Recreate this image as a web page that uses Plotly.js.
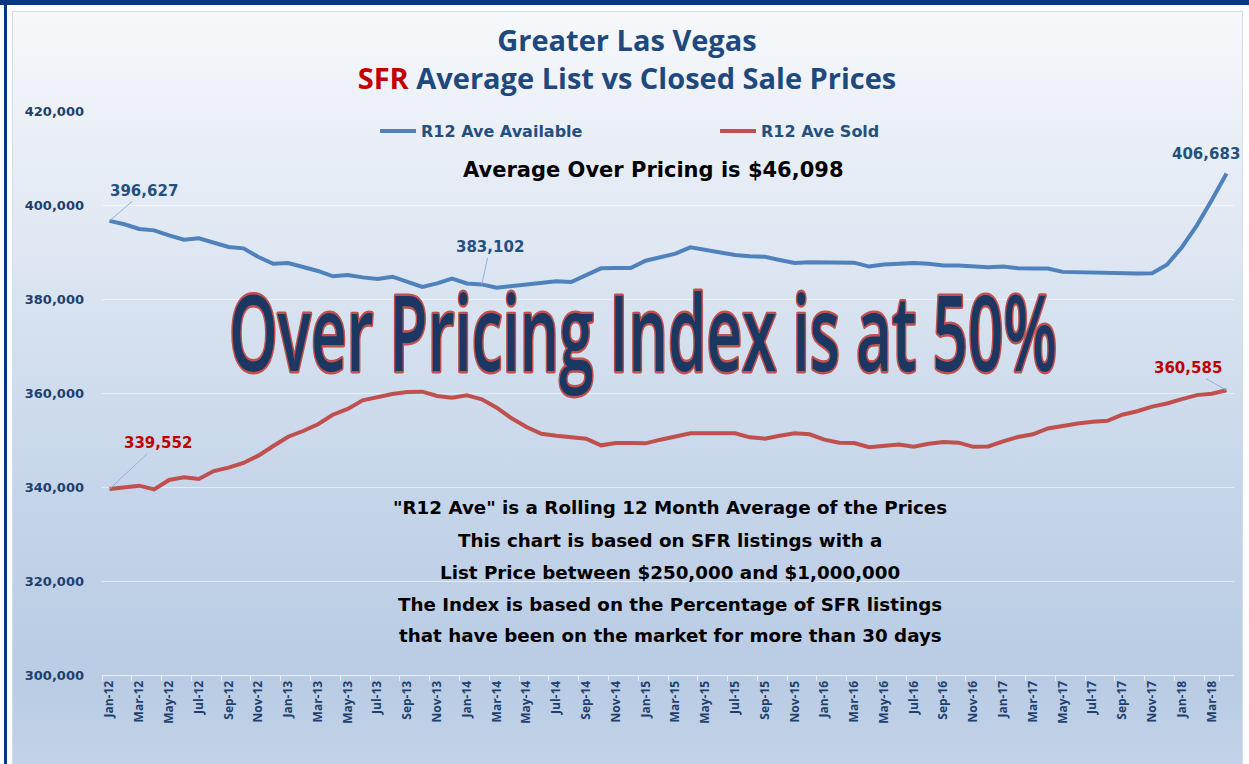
<!DOCTYPE html>
<html>
<head>
<meta charset="utf-8">
<script src="https://cdn.plot.ly/plotly-3.0.1.min.js"></script>
<style>
  html, body { margin: 0; padding: 0; background: #ffffff; }
  #frame { position: relative; width: 1249px; height: 764px; overflow: hidden; background: #ffffff; }
  #topbar { position: absolute; left: 0; top: 0; width: 1249px; height: 5px; background: #0b3680; }
  #leftbar { position: absolute; left: 4px; top: 0; width: 3px; height: 764px; background: #0b3680; }
  #panel { position: absolute; left: 12px; top: 11px; width: 1229px; height: 760px; border: 1px solid #d3dceb;
    background: linear-gradient(to bottom, #f6f8fb 0%, #e6ecf5 22%, #d3dfee 45%, #c4d4e9 65%, #b9cce4 88%, #c3d3e8 100%); }
  #chart { position: absolute; left: 0; top: 0; width: 1249px; height: 764px; }
</style>
</head>
<body>
<div id="frame">
  <div id="topbar"></div>
  <div id="leftbar"></div>
  <div id="panel"></div>
  <div id="chart"></div>
</div>
<script>
// ---- Data ----
var months = [
  "Jan-12","Feb-12","Mar-12","Apr-12","May-12","Jun-12","Jul-12","Aug-12","Sep-12","Oct-12","Nov-12","Dec-12",
  "Jan-13","Feb-13","Mar-13","Apr-13","May-13","Jun-13","Jul-13","Aug-13","Sep-13","Oct-13","Nov-13","Dec-13",
  "Jan-14","Feb-14","Mar-14","Apr-14","May-14","Jun-14","Jul-14","Aug-14","Sep-14","Oct-14","Nov-14","Dec-14",
  "Jan-15","Feb-15","Mar-15","Apr-15","May-15","Jun-15","Jul-15","Aug-15","Sep-15","Oct-15","Nov-15","Dec-15",
  "Jan-16","Feb-16","Mar-16","Apr-16","May-16","Jun-16","Jul-16","Aug-16","Sep-16","Oct-16","Nov-16","Dec-16",
  "Jan-17","Feb-17","Mar-17","Apr-17","May-17","Jun-17","Jul-17","Aug-17","Sep-17","Oct-17","Nov-17","Dec-17",
  "Jan-18","Feb-18","Mar-18","Apr-18"
];

var aveAvailable = [
  396627, 395900, 394900, 394600, 393550, 392600, 392900, 392000, 391060, 390780, 388940, 387500,
  387660, 386800, 385960, 384830, 385100, 384600, 384250, 384740, 383620, 382550, 383330, 384320,
  383300, 383102, 382400, 382700, 383050, 383400, 383760, 383620, 385100, 386530, 386600, 386600,
  388150, 388870, 389640, 391000, 390430, 390000, 389360, 389080, 389000, 388300, 387660, 387800,
  387800, 387800, 387730, 386900, 387340, 387490, 387640, 387490, 387130, 387130, 387000, 386770,
  386910, 386550, 386480, 386480, 385770, 385700, 385490, 385550, 385400, 385400, 385490, 387280,
  391020, 395620, 401000, 406683
];

var aveSold = [
  339552, 340000, 340280, 339500, 341490, 342060, 341700, 343400, 344110, 345110, 346670, 348720,
  350700, 351910, 353340, 355380, 356600, 358440, 359080, 359790, 360210, 360280, 359360, 359000,
  359500, 358650, 356870, 354610, 352770, 351340, 350920, 350640, 350280, 348870, 349360, 349360,
  349290, 350070, 350700, 351420, 351420, 351340, 351420, 350570, 350280, 350920, 351420, 351210,
  350070, 349430, 349360, 348450, 348850, 349060, 348550, 349210, 349570, 349430, 348550, 348640,
  349700, 350640, 351210, 352450, 352960, 353530, 353870, 354100, 355380, 356110, 357110, 357770,
  358700, 359550, 359850, 360585
];

var seriesNames = ["R12 Ave Available", "R12 Ave Sold"];
var tickMonths = months.filter(function (m, i) { return i % 2 === 0; });

var notes = [
  '"R12 Ave" is a Rolling 12 Month Average of the Prices',
  'This chart is based on SFR listings with a',
  'List Price between $250,000 and $1,000,000',
  'The Index is based on the Percentage of SFR listings',
  'that have been on the market for more than 30 days'
];
var bigText = 'Over Pricing Index is at 50%';
var avgText = 'Average Over Pricing is $46,098';

// ---- Styles ----
var BLUE = '#4f81bd', RED = '#c0504d';
var NAVY_TXT = '#1f3f6e';
var fmt = function (v) { return v.toLocaleString('en-US'); };

var traces = [
  { x: months, y: aveAvailable, name: seriesNames[0], type: 'scatter', mode: 'lines',
    line: { color: BLUE, width: 4 }, hoverinfo: 'skip' },
  { x: months, y: aveSold, name: seriesNames[1], type: 'scatter', mode: 'lines',
    line: { color: RED, width: 4 }, hoverinfo: 'skip' }
];

var last = months.length - 1;
var labelFont = { family: 'DejaVu Sans', size: 15, weight: 700 };
var annotations = [
  // data labels
  { x: months[0], y: aveAvailable[0], xref: 'x', yref: 'y', text: fmt(aveAvailable[0]),
    showarrow: true, arrowhead: 0, arrowwidth: 1, arrowcolor: '#8db3e2', ax: 35, ay: -30, standoff: 0,
    font: Object.assign({ color: '#24507f' }, labelFont) },
  { x: months[25], y: aveAvailable[25], xref: 'x', yref: 'y', text: fmt(aveAvailable[25]),
    showarrow: true, arrowhead: 0, arrowwidth: 1, arrowcolor: '#8db3e2', ax: 8, ay: -37, standoff: 0,
    font: Object.assign({ color: '#24507f' }, labelFont) },
  { x: months[last], y: aveAvailable[last], xref: 'x', yref: 'y', text: fmt(aveAvailable[last]),
    showarrow: false, xshift: -21, yshift: 20,
    font: Object.assign({ color: '#24507f' }, labelFont) },
  { x: months[0], y: aveSold[0], xref: 'x', yref: 'y', text: fmt(aveSold[0]),
    showarrow: true, arrowhead: 0, arrowwidth: 1, arrowcolor: '#8db3e2', ax: 49, ay: -46, standoff: 0,
    font: Object.assign({ color: '#c00000' }, labelFont) },
  { x: months[last], y: aveSold[last], xref: 'x', yref: 'y', text: fmt(aveSold[last]),
    showarrow: true, arrowhead: 0, arrowwidth: 1, arrowcolor: '#8db3e2', ax: -39, ay: -22, standoff: 0,
    font: Object.assign({ color: '#c00000' }, labelFont) },
  // average over pricing
  { xref: 'paper', yref: 'paper', x: 0.4876, y: 0.8954, text: avgText, showarrow: false,
    xanchor: 'center', yanchor: 'middle',
    font: { family: 'DejaVu Sans', size: 21, weight: 700, color: '#000000' } },
  // big word art
  { xref: 'paper', yref: 'paper', x: 0.4779, y: 0.6117, text: bigText, showarrow: false,
    xanchor: 'center', yanchor: 'middle',
    font: { family: 'Open Sans', size: 62, weight: 600, color: '#1c3862' } }
];
var noteY = [0.2961, 0.2385, 0.1817, 0.1250, 0.0709];
notes.forEach(function (t, i) {
  annotations.push({ xref: 'paper', yref: 'paper', x: 0.5018, y: noteY[i], text: t, showarrow: false,
    xanchor: 'center', yanchor: 'middle',
    font: { family: 'DejaVu Sans', size: 18.3, weight: 700, color: '#000000' } });
});

var layout = {
  width: 1249, height: 764,
  margin: { l: 102, r: 15, t: 111, b: 89 },
  paper_bgcolor: 'rgba(0,0,0,0)', plot_bgcolor: 'rgba(0,0,0,0)',
  title: {
    text: 'Greater Las Vegas<br><span style="color:#c00000">SFR</span> Average List vs Closed Sale Prices',
    font: { family: 'Open Sans', size: 29, weight: 700, color: '#1f497d' },
    x: 0.502, xref: 'container', xanchor: 'center',
    y: 0.933, yref: 'container', yanchor: 'middle'
  },
  showlegend: true,
  legend: {
    orientation: 'h', xref: 'paper', yref: 'paper', x: 0.2412, y: 0.9645, xanchor: 'left', yanchor: 'middle',
    bgcolor: 'rgba(0,0,0,0)', itemwidth: 36, entrywidthmode: 'pixels', entrywidth: 289,
    font: { family: 'DejaVu Sans', size: 16, weight: 700, color: '#24507f' }
  },
  xaxis: {
    type: 'category', range: [-0.5, months.length - 0.5],
    tickmode: 'array', tickvals: tickMonths, ticktext: tickMonths,
    tickangle: -90, tickson: 'boundaries', ticks: 'outside', ticklen: 5, tickcolor: '#e6edf6',
    showline: true, linecolor: '#e6edf6', linewidth: 1, showgrid: false, zeroline: false,
    tickfont: { family: 'Open Sans', size: 12, weight: 700, color: NAVY_TXT }
  },
  yaxis: {
    range: [300000, 420000], dtick: 20000, tickformat: ',d',
    showgrid: true, gridcolor: 'rgba(255,255,255,0.55)', gridwidth: 1, zeroline: false, showline: false,
    ticks: '', ticklabelstandoff: 17,
    tickfont: { family: 'DejaVu Sans', size: 13, weight: 700, color: NAVY_TXT }
  },
  annotations: annotations
};

Plotly.newPlot('chart', traces, layout, { staticPlot: true, displayModeBar: false }).then(function (gd) {
  gd.querySelectorAll('.annotation-text').forEach(function (t) {
    if (t.textContent === bigText) {
      t.style.transformBox = 'fill-box';
      t.style.transformOrigin = '50% 50%';
      t.style.transform = 'scaleY(1.7)';
      t.style.stroke = RED;
      t.style.strokeWidth = '4px';
      t.style.paintOrder = 'stroke';
      t.style.strokeLinejoin = 'round';
      t.style.vectorEffect = 'non-scaling-stroke';
    }
  });
});
</script>
</body>
</html>
